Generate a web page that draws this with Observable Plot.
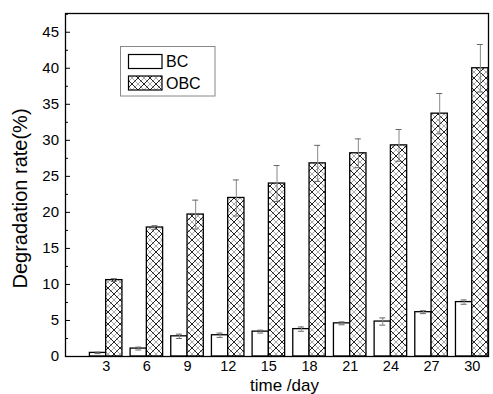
<!DOCTYPE html>
<html>
<head>
<meta charset="utf-8">
<script src="https://cdn.jsdelivr.net/npm/d3@7"></script>
<script src="https://cdn.jsdelivr.net/npm/@observablehq/plot@0.6"></script>
<style>
  body { margin: 0; background: #fff; }
  svg { font-family: "Liberation Sans", Arial, sans-serif; }
</style>
</head>
<body>
<div id="chart"></div>
<script>
// ---- data ----
const days = [3, 6, 9, 12, 15, 18, 21, 24, 27, 30];
const seriesNames = ["BC", "OBC"];
const bcValues = [0.5, 1.1, 2.8, 2.95, 3.45, 3.8, 4.6, 4.85, 6.15, 7.55];
const bcErrors = [0.1, 0.2, 0.3, 0.3, 0.2, 0.3, 0.2, 0.5, 0.2, 0.3];
const obcValues = [10.6, 17.9, 19.7, 22.0, 24.0, 26.8, 28.2, 29.3, 33.7, 40.0];
const obcErrors = [0.2, 0.25, 2.0, 2.5, 2.5, 2.5, 2.0, 2.2, 2.8, 3.3];
const yTicks = [0, 5, 10, 15, 20, 25, 30, 35, 40, 45];
const yMinorTicks = [2.5, 7.5, 12.5, 17.5, 22.5, 27.5, 32.5, 37.5, 42.5, 47.5];
const xLabel = "time /day";
const yLabel = "Degradation rate(%)";

const barW = 1.2;
const rows = [];
days.forEach((d, i) => {
  rows.push({day: d, series: "BC", x1: d - barW, x2: d, v: bcValues[i], e: bcErrors[i]});
  rows.push({day: d, series: "OBC", x1: d, x2: d + barW, v: obcValues[i], e: obcErrors[i]});
});
const bcRows = rows.filter(r => r.series === "BC");
const obcRows = rows.filter(r => r.series === "OBC");

const capHalf = 0.22;

const chart = Plot.plot({
  width: 493,
  height: 394,
  marginLeft: 65,
  marginRight: 5,
  marginTop: 13,
  marginBottom: 38,
  style: {fontFamily: "Liberation Sans, Arial, sans-serif", background: "#fff", color: "black"},
  x: {domain: [0, 31.2]},
  y: {domain: [0, 47.6]},
  marks: [
    Plot.rectY(bcRows, {x1: "x1", x2: "x2", y: "v", fill: "white", stroke: "black", strokeWidth: 1.3}),
    Plot.rectY(obcRows, {x1: "x1", x2: "x2", y: "v", fill: "url(#xhatch)", stroke: "black", strokeWidth: 1.3}),
    Plot.ruleX(rows, {x: d => (d.x1 + d.x2) / 2, y1: d => d.v - d.e, y2: d => d.v + d.e, stroke: "#888", strokeWidth: 1}),
    Plot.ruleY(rows, {y: d => d.v + d.e, x1: d => (d.x1 + d.x2) / 2 - capHalf, x2: d => (d.x1 + d.x2) / 2 + capHalf, stroke: "#666", strokeWidth: 1}),
    Plot.ruleY(rows, {y: d => d.v - d.e, x1: d => (d.x1 + d.x2) / 2 - capHalf, x2: d => (d.x1 + d.x2) / 2 + capHalf, stroke: "#666", strokeWidth: 1}),
    Plot.axisY({ticks: yTicks, tickSize: -5, tickPadding: 11.5, fontSize: 15, label: null}),
    Plot.axisY({ticks: yMinorTicks.filter(t => t < 47.6), tickSize: -3, tickFormat: () => "", label: null}),
    Plot.axisX({ticks: days, tickSize: 0, tickPadding: 4, fontSize: 14.5, label: null}),
    Plot.frame({stroke: "black", strokeWidth: 1.3})
  ]
});

// hatch pattern definition
const svg = d3.select(chart);
const defs = svg.insert("defs", ":first-child");
const P = 12;
const pat = defs.append("pattern")
  .attr("id", "xhatch").attr("patternUnits", "userSpaceOnUse")
  .attr("width", P).attr("height", P);
pat.append("rect").attr("width", P).attr("height", P).attr("fill", "white");
function diag(g, off, color, w) {
  [-P, 0, P].forEach(k => {
    g.append("line").attr("x1", off + k).attr("y1", 0).attr("x2", off + k + P).attr("y2", P)
      .attr("stroke", color).attr("stroke-width", w);
    g.append("line").attr("x1", off + k + P).attr("y1", 0).attr("x2", off + k).attr("y2", P)
      .attr("stroke", color).attr("stroke-width", w);
  });
}
diag(pat, P / 2, "#aaa", 1);
diag(pat, 0, "#222", 1);

// axis titles
svg.append("text").attr("x", 284.5).attr("y", 391).attr("text-anchor", "middle")
  .attr("font-size", 17).attr("fill", "black").text(xLabel);
svg.append("text").attr("transform", "translate(27,198.5) rotate(-90)").attr("text-anchor", "middle")
  .attr("font-size", 20).attr("fill", "black").text(yLabel);

// legend inside the plot area
const lg = svg.append("g").attr("text-anchor", "start");
lg.append("rect").attr("x", 120.5).attr("y", 46.5).attr("width", 94.5).attr("height", 49.5)
  .attr("fill", "white").attr("stroke", "#888").attr("stroke-width", 1);
const sw = [
  {name: seriesNames[0], fill: "white", y: 54.5},
  {name: seriesNames[1], fill: "url(#xhatch)", y: 76}
];
sw.forEach(s => {
  lg.append("rect").attr("x", 128.5).attr("y", s.y).attr("width", 33.5).attr("height", 14)
    .attr("fill", s.fill).attr("stroke", "black").attr("stroke-width", 1.2);
  lg.append("text").attr("x", 166).attr("y", s.y + 12.5).attr("font-size", 16)
    .attr("text-anchor", "start").attr("fill", "black").text(s.name);
});

document.getElementById("chart").appendChild(chart);
</script>
</body>
</html>
